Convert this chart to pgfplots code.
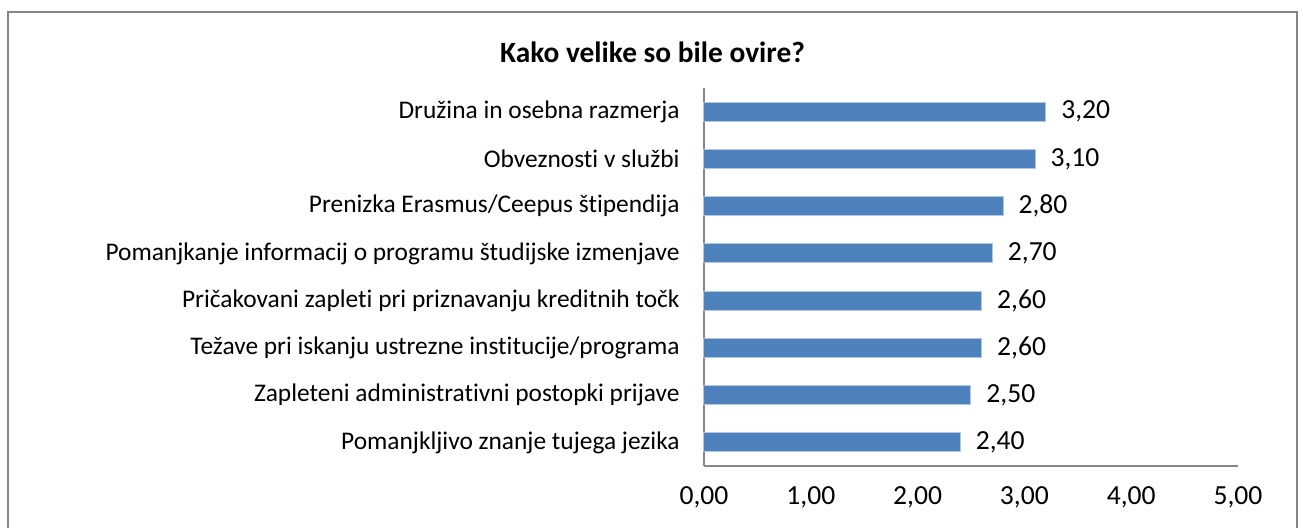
\documentclass[border=0pt]{standalone}
\usepackage{pgfplots}
\pgfplotsset{compat=1.18}
\usepackage{fontspec}
\setmainfont{Carlito}[Ligatures=NoCommon]
\definecolor{barblue}{RGB}{79,129,189}
\definecolor{framegray}{RGB}{134,134,134}
\begin{document}
\begin{tikzpicture}
% page = 1303x527 px at 0.5pt per px
\useasboundingbox (0,0) rectangle (651.5pt,-263.5pt);
\draw[framegray,line width=1pt] (4pt,-280pt) -- (4pt,-6pt) -- (648.5pt,-6pt) -- (648.5pt,-280pt);
\node[font=\fontsize{14.7}{17}\selectfont\bfseries] at (326.25pt,-26pt) {Kako velike so bile ovire?};
\begin{axis}[at={(352pt,-233pt)},anchor=south west,scale only axis,
  width=267pt,height=189pt,
  xbar,bar width=9.5pt,
  xmin=0,xmax=5,ymin=-0.5,ymax=7.5,
  axis x line*=bottom,axis y line*=left,
  axis line style={framegray,line width=1pt},
  major tick length=0pt,
  xtick={0,1,2,3,4,5},ytick={0,...,7},
  yticklabels={Pomanjkljivo znanje tujega jezika,
    Zapleteni administrativni postopki prijave,
    Težave pri iskanju ustrezne institucije/programa,
    Pričakovani zapleti pri priznavanju kreditnih točk,
    Pomanjkanje informacij o programu študijske izmenjave,
    Prenizka Erasmus/Ceepus štipendija,
    Obveznosti v službi,
    Družina in osebna razmerja},
  font=\fontsize{12.7}{15}\selectfont,
  yticklabel style={anchor=east,inner sep=0pt,xshift=-12pt},
  xticklabel style={anchor=center,yshift=-15.5pt,font=\fontsize{13.8}{16}\selectfont,
    /pgf/number format/.cd,fixed,zerofill,precision=2,use comma,assume math mode=true},
  point meta=x,
  nodes near coords,
  nodes near coords style={anchor=west,inner sep=0pt,xshift=7.5pt,font=\fontsize{13.8}{16}\selectfont,
    /pgf/number format/.cd,fixed,zerofill,precision=2,use comma,assume math mode=true},
  clip=false]
\addplot[fill=barblue,draw=barblue!45!white,line width=0.5pt] coordinates {
  (2.4,0) (2.5,1) (2.6,2) (2.6,3) (2.7,4) (2.8,5) (3.1,6) (3.2,7)};
\end{axis}
\end{tikzpicture}
\end{document}
